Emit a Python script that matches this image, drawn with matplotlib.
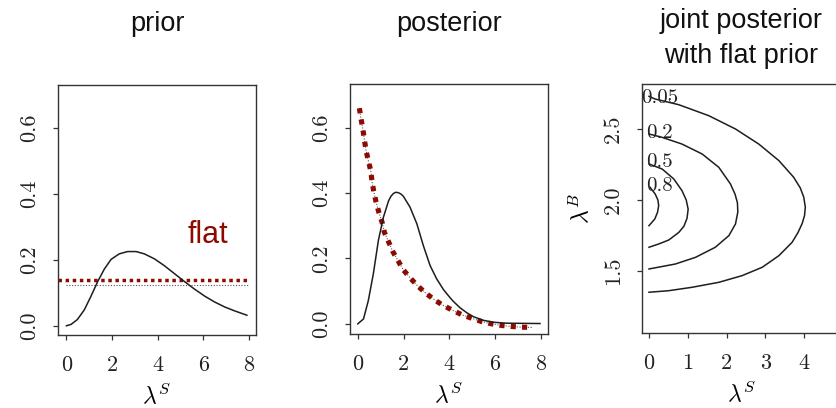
import matplotlib
matplotlib.use('Agg')
from matplotlib import pyplot as plt

plt.rcParams['mathtext.fontset'] = 'cm'

# prior panel
prior_x = [0, 0.2, 0.48, 0.78, 1.07, 1.36, 1.66, 1.95, 2.31, 2.68, 3.05, 3.41, 3.85, 4.29,
           4.73, 5.17, 5.61, 6.05, 6.49, 6.93, 7.37, 7.9]
prior_y = [0, 0.004, 0.019, 0.048, 0.089, 0.133, 0.172, 0.201, 0.218, 0.225, 0.225, 0.218,
           0.203, 0.182, 0.158, 0.134, 0.111, 0.090, 0.072, 0.057, 0.045, 0.032]
flat_x = [0, 8]
flat_y = [0.125, 0.125]
flat_red_x = [-0.35, 7.95]
flat_red_y = [0.139, 0.139]

# posterior panel
post_x = [0, 0.25, 0.46, 0.68, 0.90, 1.12, 1.34, 1.45, 1.55, 1.65, 1.77, 1.88, 1.99, 2.28,
          2.58, 2.86, 3.16, 3.45, 3.74, 4.03, 4.17, 4.47, 4.76, 5.05, 5.48, 5.92, 6.5, 7.96]
post_y = [0, 0.015, 0.071, 0.153, 0.255, 0.326, 0.375, 0.390, 0.398, 0.402, 0.401, 0.397,
          0.390, 0.357, 0.306, 0.240, 0.178, 0.137, 0.105, 0.080, 0.069, 0.049, 0.034,
          0.022, 0.011, 0.005, 0.002, 0.001]
flatpost_x = [0.07, 0.14, 0.22, 0.29, 0.36, 0.46, 0.57, 0.62, 0.70, 0.80, 0.92, 1.06, 1.16,
              1.35, 1.53, 1.75, 1.99, 2.28, 2.60, 2.95, 3.30, 3.69, 4.10, 4.54, 4.98, 5.41,
              5.85, 6.29, 6.72, 7.16, 7.60]
flatpost_y = [0.659, 0.627, 0.596, 0.562, 0.530, 0.499, 0.467, 0.435, 0.404, 0.372, 0.341,
              0.311, 0.280, 0.250, 0.221, 0.194, 0.165, 0.141, 0.117, 0.095, 0.076, 0.058,
              0.043, 0.028, 0.017, 0.007, 0.0, -0.005, -0.008, -0.010, -0.011]

# joint posterior contours (lambda_S, lambda_B)
c005_x = [0.0, 0.16, 0.77, 1.54, 2.23, 2.83, 3.35, 3.73, 3.90, 3.99, 4.03, 4.01, 3.95, 3.84,
          3.69, 3.35, 2.92, 2.40, 1.80, 1.11, 0.51, 0.0]
c005_y = [2.73, 2.711, 2.671, 2.594, 2.500, 2.394, 2.277, 2.160, 2.085, 2.020, 1.950, 1.890,
          1.835, 1.770, 1.702, 1.608, 1.526, 1.467, 1.420, 1.385, 1.361, 1.350]
c02_x = [0.0, 0.34, 0.85, 1.37, 1.80, 2.10, 2.22, 2.28, 2.29, 2.23, 2.06, 1.71, 1.20, 0.68,
         0.0]
c02_y = [2.465, 2.441, 2.394, 2.324, 2.230, 2.113, 2.040, 1.980, 1.915, 1.831, 1.749, 1.667,
         1.596, 1.549, 1.514]
c05_x = [0.0, 0.34, 0.64, 0.85, 0.96, 1.01, 0.98, 0.90, 0.77, 0.51, 0.25, 0.0]
c05_y = [2.254, 2.218, 2.148, 2.066, 2.000, 1.935, 1.870, 1.815, 1.772, 1.718, 1.690, 1.667]
c08_x = [0.03, 0.16, 0.23, 0.25, 0.22, 0.15, 0.0]
c08_y = [2.089, 2.042, 2.000, 1.960, 1.913, 1.866, 1.819]
contour_labels = ['0.05', '0.2', '0.5', '0.8']
label_y = [2.683, 2.44, 2.235, 2.061]

red = '#8c0a00'
ink = '#1e1e1e'
serif = 'cmr10'

fig = plt.figure(figsize=(8.36, 4.08), dpi=100)
ax1 = fig.add_axes([58 / 836, 73 / 408, 198 / 836, 250 / 408])
ax2 = fig.add_axes([350 / 836, 74 / 408, 198 / 836, 250 / 408])
ax3 = fig.add_axes([642 / 836, 75 / 408, 199 / 836, 249 / 408])


def style(ax, xticks, yticks):
    for s in ax.spines.values():
        s.set_linewidth(1.0)
        s.set_color('#333333')
    ax.tick_params(direction='out', length=3.5, width=0.9, color='#333333')
    ax.tick_params(axis='x', pad=11)
    ax.tick_params(axis='y', pad=10)
    ax.set_xticks(xticks, [str(t) for t in xticks], fontfamily=serif, fontsize=16,
                  color='#222222')
    ax.set_yticks(yticks, [f'{t:.1f}' for t in yticks], fontfamily=serif, fontsize=16,
                  color='#222222', rotation=90, va='center')
    ax.set_xlabel(r'$\lambda^S$', fontsize=17, labelpad=6)


# prior
ax1.plot(flat_x, flat_y, color='#555555', lw=0.8, ls=(0, (1, 1.5)))
ax1.plot(flat_red_x, flat_red_y, color=red, lw=2.5, ls=(0, (1, 1.05)), dash_capstyle='butt')
ax1.plot(prior_x, prior_y, color=ink, lw=1.1)
ax1.set_xlim(-0.37, 8.3)
ax1.set_ylim(-0.028, 0.73)
style(ax1, [0, 2, 4, 6, 8], [0.0, 0.2, 0.4, 0.6])
ax1.text(5.32, 0.25, 'flat', color=red, fontsize=22, family='Liberation Sans', va='baseline')
ax1.text(0.5, 1.215, 'prior', transform=ax1.transAxes, ha='center', va='baseline',
         fontsize=19.5, family='Liberation Sans', color='#111111')

# posterior
ax2.plot(flatpost_x, flatpost_y, color='#555555', lw=0.8, ls=(0, (1, 1.5)))
ax2.plot(flatpost_x, flatpost_y, color=red, lw=3.7, ls=(0, (1, 1.2)), dash_capstyle='butt')
ax2.plot(post_x, post_y, color=ink, lw=1.1)
ax2.set_xlim(-0.34, 8.31)
ax2.set_ylim(-0.031, 0.733)
style(ax2, [0, 2, 4, 6, 8], [0.0, 0.2, 0.4, 0.6])
ax2.text(0.5, 1.212, 'posterior', transform=ax2.transAxes, ha='center', va='baseline',
         fontsize=19.5, family='Liberation Sans', color='#111111')

# joint posterior
for cx, cy in [(c005_x, c005_y), (c02_x, c02_y), (c05_x, c05_y), (c08_x, c08_y)]:
    ax3.plot(cx, cy, color=ink, lw=1.1)
for lab, ly in zip(contour_labels, label_y):
    ax3.text(0.28, ly, lab, ha='center', va='baseline', fontsize=15, fontfamily=serif,
             color='#222222')
ax3.set_xlim(-0.18, 4.95)
ax3.set_ylim(1.063, 2.817)
style(ax3, [0, 1, 2, 3, 4], [1.5, 2.0, 2.5])
ax3.set_ylabel(r'$\lambda^B$', fontsize=17, labelpad=7)
ax3.text(0.5, (249 + 56) / 249, 'joint posterior', transform=ax3.transAxes, ha='center',
         va='baseline', fontsize=19.5, family='Liberation Sans', color='#111111')
ax3.text(0.5, (249 + 21) / 249, 'with flat prior', transform=ax3.transAxes, ha='center',
         va='baseline', fontsize=19.5, family='Liberation Sans', color='#111111')

fig.savefig('out.png', dpi=100)
